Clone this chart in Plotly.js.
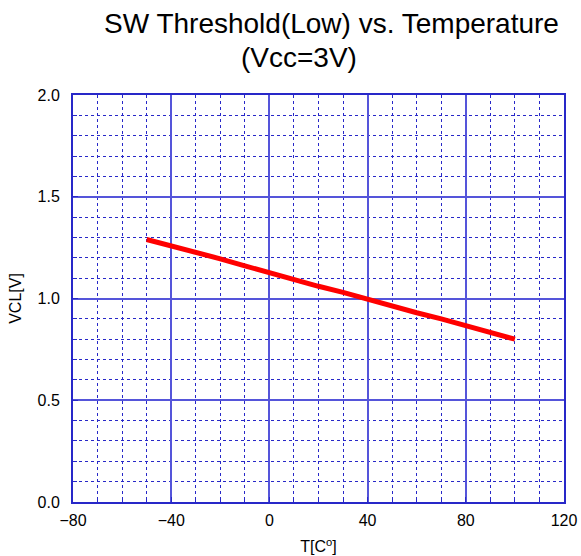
<!DOCTYPE html>
<html>
<head>
<meta charset="utf-8">
<script src="https://cdn.plot.ly/plotly-3.0.1.min.js"></script>
<style>html,body{margin:0;padding:0;background:#fff;}#chart{width:581px;height:556px;}</style>
</head>
<body>
<div id="chart"></div>
<script>
const temperature = [-50, -40, -30, -20, -10, 0, 10, 20, 30, 40, 50, 60, 70, 80, 90, 100];
const vcl = [1.29, 1.26, 1.23, 1.195, 1.16, 1.125, 1.09, 1.06, 1.03, 0.995, 0.965, 0.93, 0.90, 0.865, 0.835, 0.80];
const titleLine1 = "SW Threshold(Low) vs. Temperature";
const titleLine2 = "(Vcc=3V)";
const xTitle = "T[C<sup>o</sup>]";
const yTitle = "VCL[V]";

const lineBlue = "rgb(40,40,200)";
const majorBlue = "rgb(85,85,218)";
const font = "Liberation Sans, Arial, sans-serif";

const trace = {
  x: temperature, y: vcl, type: "scatter", mode: "lines",
  line: {color: "#ff0000", width: 5}, showlegend: false, hoverinfo: "skip"
};

const layout = {
  width: 581, height: 556,
  margin: {l: 73, r: 17, t: 95, b: 54},
  paper_bgcolor: "#ffffff", plot_bgcolor: "#ffffff",
  font: {family: font, color: "#000", size: 16},
  showlegend: false,
  xaxis: {
    range: [-80, 120], dtick: 40, tick0: -80,
    showgrid: true, gridcolor: majorBlue, gridwidth: 2,
    zeroline: false, showline: true, mirror: true, linecolor: lineBlue, linewidth: 2,
    ticks: "inside", ticklen: 5, tickcolor: lineBlue,
    ticklabelstandoff: 3,
    minor: {dtick: 10, tick0: -80, showgrid: true, gridcolor: lineBlue, griddash: "dot", gridwidth: 1, ticks: "inside", ticklen: 4, tickcolor: lineBlue},
    tickfont: {size: 16, family: font},
    title: {text: xTitle, font: {size: 16, family: font}, standoff: 13}
  },
  yaxis: {
    range: [0, 2.0], dtick: 0.5, tick0: 0, tickformat: ".1f",
    showgrid: true, gridcolor: majorBlue, gridwidth: 2,
    zeroline: false, showline: true, mirror: true, linecolor: lineBlue, linewidth: 2,
    ticks: "inside", ticklen: 5, tickcolor: lineBlue,
    ticklabelstandoff: 8,
    minor: {dtick: 0.1, tick0: 0, showgrid: true, gridcolor: lineBlue, griddash: "dot", gridwidth: 1, ticks: "inside", ticklen: 4, tickcolor: lineBlue},
    tickfont: {size: 16, family: font},
    title: {text: yTitle, font: {size: 16, family: font}, standoff: 12}
  },
  annotations: [
    {text: titleLine1, xref: "paper", yref: "paper", x: 0.5265, y: 1.1754, xanchor: "center", yanchor: "middle", showarrow: false, font: {size: 28, family: font, color: "#000"}},
    {text: titleLine2, xref: "paper", yref: "paper", x: 0.4612, y: 1.0920, xanchor: "center", yanchor: "middle", showarrow: false, font: {size: 28, family: font, color: "#000"}}
  ]
};

Plotly.newPlot("chart", [trace], layout, {staticPlot: true, displayModeBar: false});
</script>
</body>
</html>
